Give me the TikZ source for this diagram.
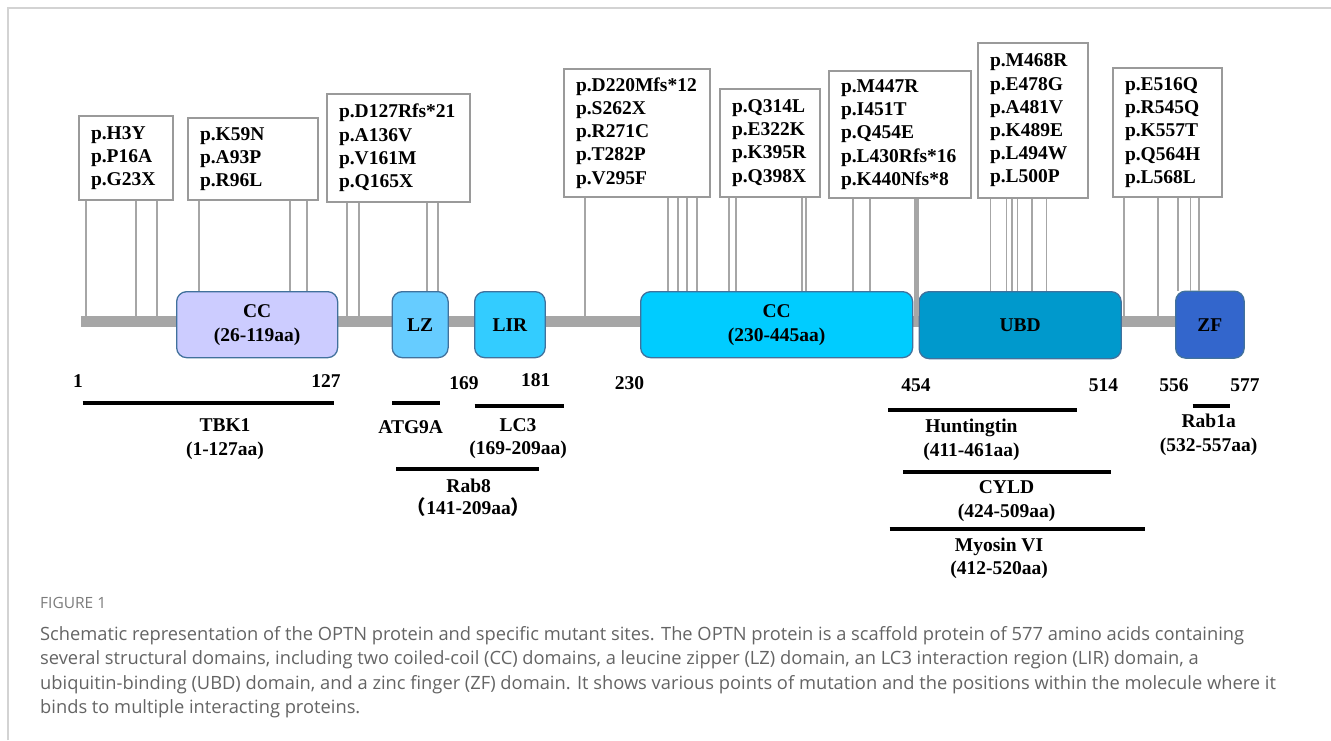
\documentclass[tikz,border=0pt]{standalone}
\usepackage{fontspec}
\setmainfont{Liberation Serif}
\newfontfamily\capfont{Open Sans}
\newfontfamily\cjkfont{Noto Sans CJK SC}
\definecolor{cconecol}{HTML}{CCCCFF}
\definecolor{lzcol}{HTML}{66CCFF}
\definecolor{lircol}{HTML}{33CCFF}
\definecolor{cctwocol}{HTML}{00CCFF}
\definecolor{ubdcol}{HTML}{0099CC}
\definecolor{zfcol}{HTML}{3366CC}
\definecolor{domborder}{HTML}{41719C}
\definecolor{bbgray}{HTML}{A6A6A6}
\definecolor{boxgray}{HTML}{9A9A9A}
\definecolor{stemgray}{HTML}{A6A6A6}
\definecolor{framegray}{HTML}{D3D3D3}
\definecolor{capgray}{HTML}{646464}
\begin{document}
\begin{tikzpicture}[x=1pt,y=-1pt,
  mbox/.style={draw=boxgray, line width=2pt, fill=white, anchor=north west,
    inner xsep=12pt, inner ysep=0pt, align=left,
    font=\bfseries\fontsize{19.5}{23.2}\selectfont},
  stem/.style={draw=stemgray, line width=1.8pt},
  dom/.style={draw=domborder, line width=1.3pt, rounded corners=10pt, anchor=north west,
    align=center, inner sep=0pt, font=\bfseries\fontsize{19.5}{24}\selectfont},
  num/.style={font=\bfseries\fontsize{19.5}{23}\selectfont, inner sep=0pt},
  lab/.style={align=center, inner sep=0pt, font=\bfseries\fontsize{19.5}{23.5}\selectfont},
  bind/.style={line width=4pt, black},
  captext/.style={anchor=base west, inner sep=0pt, text=capgray, font=\capfont\fontsize{18.3}{20}\selectfont},
]
\useasboundingbox (0,0) rectangle (1331,740);
% frame
\draw[framegray, line width=2pt] (8,740) -- (8,8) -- (1331,8);

% backbone
\node[fill=bbgray, minimum width=1094pt, minimum height=11pt, inner sep=0pt, anchor=west] (bb) at (81,321.5) {};

% domains
\node[dom, fill=cconecol, minimum width=161pt, minimum height=66pt] (cc1) at (176,291) {CC\\(26-119aa)};
\node[dom, fill=lzcol, minimum width=56pt, minimum height=66pt] (lz) at (391.5,291) {LZ};
\node[dom, fill=lircol, minimum width=70.5pt, minimum height=66pt] (lir) at (474,291) {LIR};
\node[dom, fill=cctwocol, minimum width=272pt, minimum height=66pt] (cc2) at (640,291) {CC\\(230-445aa)};
\node[dom, fill=ubdcol, minimum width=202pt, minimum height=67pt] (ubd) at (918.5,291) {UBD};
\node[dom, fill=zfcol, minimum width=68.5pt, minimum height=67pt] (zf) at (1175,290.5) {ZF};

% mutation boxes
\node[mbox, minimum width=94pt, minimum height=84pt, text width=70pt] (mA) at (78,115) {p.H3Y\\p.P16A\\p.G23X};
\node[mbox, minimum width=130pt, minimum height=82pt, text width=106pt] (mB) at (187,117) {p.K59N\\p.A93P\\p.R96L};
\node[mbox, minimum width=143pt, minimum height=108pt, text width=119pt] (mC) at (326,93) {p.D127Rfs*21\\p.A136V\\p.V161M\\p.Q165X};
\node[mbox, minimum width=146pt, minimum height=128pt, text width=122pt] (mD) at (563,68) {p.D220Mfs*12\\p.S262X\\p.R271C\\p.T282P\\p.V295F};
\node[mbox, minimum width=100pt, minimum height=108pt, text width=76pt] (mE) at (719,88) {p.Q314L\\p.E322K\\p.K395R\\p.Q398X};
\node[mbox, minimum width=142pt, minimum height=127pt, text width=118pt] (mF) at (828,70) {p.M447R\\p.I451T\\p.Q454E\\p.L430Rfs*16\\p.K440Nfs*8};
\node[mbox, minimum width=110pt, minimum height=155pt, text width=86pt] (mG) at (977,42) {p.M468R\\p.E478G\\p.A481V\\p.K489E\\p.L494W\\p.L500P};
\node[mbox, minimum width=109pt, minimum height=129pt, text width=85pt] (mH) at (1112,67) {p.E516Q\\p.R545Q\\p.K557T\\p.Q564H\\p.L568L};

% stems
\foreach \x in {86,135.7,156.7} \draw[stem] (\x,0 |- mA.south) -- (\x,0 |- bb.north);
\foreach \x in {199.3,290.3,307} \draw[stem] (\x,0 |- mB.south) -- (\x,0 |- cc1.north);
\foreach \x in {347.3,359} \draw[stem] (\x,0 |- mC.south) -- (\x,0 |- bb.north);
\foreach \x in {426.7,438} \draw[stem] (\x,0 |- mC.south) -- (\x,0 |- lz.north);
\foreach \x in {585} \draw[stem] (\x,0 |- mD.south) -- (\x,0 |- bb.north);
\foreach \x in {668.3,678.3,686.7,696.7} \draw[stem] (\x,0 |- mD.south) -- (\x,0 |- cc2.north);
\foreach \x in {729.3,736,801.7,805.7} \draw[stem] (\x,0 |- mE.south) -- (\x,0 |- cc2.north);
\foreach \x in {853.3,870} \draw[stem] (\x,0 |- mF.south) -- (\x,0 |- cc2.north);
\draw[stem, line width=4.5pt] (916.5,0 |- mF.south) -- (916.5,0 |- bb.north);
\foreach \x in {990.4,1006.5,1012,1017.4,1031.7,1046.5} \draw[stem] (\x,0 |- mG.south) -- (\x,0 |- ubd.north);
\foreach \x in {1124,1158} \draw[stem] (\x,0 |- mH.south) -- (\x,0 |- bb.north);
\foreach \x in {1178,1190.4,1199} \draw[stem] (\x,0 |- mH.south) -- (\x,0 |- zf.north);

% position numbers
\node[num] (p1) at (78,381) {1};
\node[num] (p127) at (326,381) {127};
\node[num] (p169) at (464,383) {169};
\node[num] (p181) at (535.7,380) {181};
\node[num] (p230) at (629.5,383) {230};
\node[num] (p454) at (916,385) {454};
\node[num] (p514) at (1103.5,385) {514};
\node[num] (p556) at (1174,385) {556};
\node[num] (p577) at (1245,385) {577};

% binding regions
\draw[bind] (82.6,403) -- (334,403);
\node[lab] (tbk) at (225,439) {TBK1\\(1-127aa)};
\draw[bind] (392,403) -- (439.7,403);
\node[lab] (atg) at (410.7,427) {ATG9A};
\draw[bind] (474.6,405.7) -- (563.8,405.7);
\node[lab] (lc3) at (518,438.5) {LC3\\(169-209aa)};
\draw[bind] (396.4,469.3) -- (539,469.3);
\node[lab, font=\bfseries\fontsize{19.5}{21.5}\selectfont] (rab8) at (468.7,497.5) {Rab8\\{\cjkfont （}141-209aa{\cjkfont ）}};
\draw[bind] (888,410) -- (1077,410);
\node[lab] (htt) at (971.5,440) {Huntingtin\\(411-461aa)};
\draw[bind] (903,472) -- (1111,472);
\node[lab] (cyld) at (1006.5,501) {CYLD\\(424-509aa)};
\draw[bind] (889.6,529) -- (1144.8,529);
\node[lab] (myo) at (999,558.5) {Myosin VI\\(412-520aa)};
\draw[bind] (1192.6,405.7) -- (1229.6,405.7);
\node[lab] (rab1a) at (1208.7,434.7) {Rab1a\\(532-557aa)};

% caption
\node[captext, font=\capfont\fontsize{15.5}{17}\selectfont, text=capgray!85] (figl) at (40,608) {FIGURE 1};
\node[captext] (c1) at (40,640) {Schematic representation of the OPTN protein and specific mutant sites. The OPTN protein is a scaffold protein of 577 amino acids containing};
\node[captext] (c2) at (40,664.6) {several structural domains, including two coiled-coil (CC) domains, a leucine zipper (LZ) domain, an LC3 interaction region (LIR) domain, a};
\node[captext] (c3) at (40,689.2) {ubiquitin-binding (UBD) domain, and a zinc finger (ZF) domain. It shows various points of mutation and the positions within the molecule where it};
\node[captext] (c4) at (40,713.8) {binds to multiple interacting proteins.};
\end{tikzpicture}
\end{document}
